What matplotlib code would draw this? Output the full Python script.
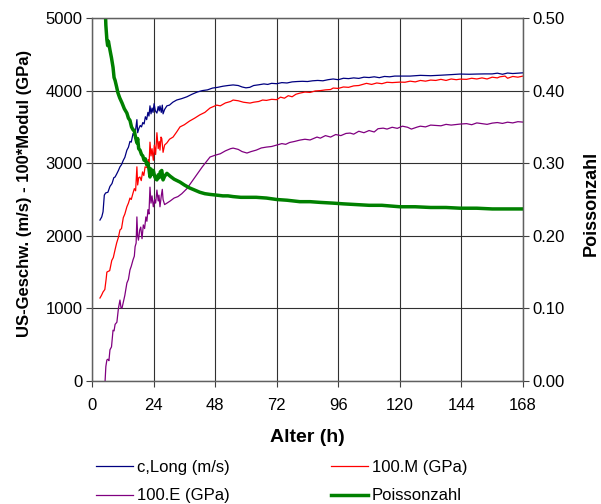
import matplotlib
matplotlib.use("Agg")
import matplotlib.pyplot as plt

plt.rcParams['font.family'] = ['Liberation Sans', 'DejaVu Sans']

# ---- data ----
c_long = [(3.1,2217),(3.8,2260),(4.3,2330),(4.8,2560),(5.3,2590),(6.2,2600),(7.0,2680),(7.8,2720),(8.5,2800),(9.0,2810),
 (9.6,2850),(10.3,2900),(10.9,2950),(11.5,2980),(12.2,3040),(12.8,3080),(13.6,3180),(14.2,3220),(14.8,3300),(15.3,3290),
 (16.0,3410),(16.5,3380),(17.0,3460),(17.5,3600),(17.8,3420),(18.3,3480),(18.8,3520),(19.3,3500),(19.8,3560),(20.3,3540),
 (20.8,3640),(21.3,3600),(21.8,3700),(22.2,3650),(22.6,3790),(23.0,3680),(23.4,3760),(23.8,3700),(24.2,3820),(24.7,3720),
 (25.3,3690),(25.8,3780),(26.2,3720),(26.5,3790),(27.0,3700),(27.4,3800),(27.7,3680),(28.3,3740),(29.2,3790),(30.2,3800),
 (31.5,3840),(33,3870),(35,3890),(37,3915),(39,3950),(41,3980),(43,4000),(45,4010),(47,4035),(49,4045),(51,4060),(53,4070),
 (55,4078),(57,4070),(58.5,4050),(60,4038),(61.5,4045),(63,4070),(65,4080),(67,4092),(68.5,4085),(70,4100),(72,4095),
 (74,4110),(76,4105),(78,4120),(80,4125),(82,4128),(84,4125),(86,4135),(88,4140),(90,4135),(92,4150),(94,4160),(96,4150),
 (98,4170),(100,4165),(102,4175),(104,4168),(106,4185),(108,4180),(110,4190),(112,4178),(114,4195),(116,4190),(118,4200),
 (120,4200),(124,4200),(128,4210),(132,4205),(136,4212),(140,4220),(143.5,4228),(147,4225),(150,4228),(153,4230),
 (156,4230),(158,4240),(160,4225),(162,4242),(164,4235),(166,4240),(168,4245)]

modul_m = [(3.1,1143),(3.7,1180),(4.3,1226),(5.0,1260),(5.5,1400),(5.8,1500),(6.3,1510),(6.9,1520),(7.7,1660),(8.3,1700),
 (9.0,1810),(9.6,1900),(10.3,1980),(10.9,2080),(11.5,2100),(12.2,2250),(12.8,2300),(13.6,2400),(14.2,2450),(14.8,2520),
 (15.3,2500),(16.0,2590),(16.5,2650),(17.0,2620),(17.5,2950),(17.8,2700),(18.2,2800),(18.7,2810),(19.2,2760),(19.7,2880),
 (20.2,2830),(20.7,2950),(21.4,2940),(21.9,3050),(22.2,2950),(22.6,3290),(23.0,3100),(23.4,3200),(23.9,3040),(24.3,3250),
 (24.8,3120),(25.3,3420),(25.8,3200),(26.2,3300),(26.5,3180),(26.9,3360),(27.2,3340),(27.7,3150),(28.3,3250),(29.2,3280),
 (30.2,3330),(31.6,3360),(33,3430),(34.3,3500),(36,3530),(38,3580),(40,3620),(42,3665),(44,3700),(46,3760),(48.6,3800),
 (50,3790),(52,3830),(54,3850),(55,3870),(57,3860),(59,3840),(61.6,3828),(63,3840),(65,3850),(66.5,3870),(68,3865),
 (70,3880),(72,3875),(73.5,3910),(75,3895),(76.5,3930),(78,3915),(79.5,3950),(81,3965),(83,3980),(85,3975),(87,3995),
 (89,4000),(91,4010),(93,4015),(94,4035),(96,4030),(98,4050),(100,4045),(102,4065),(104,4070),(106,4090),(107,4100),
 (109,4085),(111,4105),(113,4095),(115,4115),(117,4110),(120,4117),(122,4115),(124,4130),(126,4120),(128,4140),
 (130,4130),(132,4145),(134,4140),(136,4155),(138,4140),(140,4160),(142,4150),(143.5,4158),(146,4155),(148,4170),
 (150,4160),(152,4175),(154,4160),(156,4185),(158,4175),(159,4190),(161,4200),(162,4170),(164,4195),(166,4185),(168,4200)]

modul_e = [(5.1,0),(5.4,200),(5.8,290),(6.2,300),(6.6,280),(7.0,430),(7.6,470),(8.2,700),(8.6,690),(9.0,780),(9.7,810),
 (10.3,1000),(10.9,1115),(11.3,1010),(11.7,1005),(12.3,1100),(12.8,1180),(13.6,1350),(14.2,1400),(14.8,1530),(15.3,1580),
 (16.0,1670),(16.5,1720),(16.8,1850),(17.2,1900),(17.5,2260),(17.8,2000),(18.1,1940),(18.6,2080),(19.0,2120),(19.5,1960),
 (20.0,2150),(20.5,2100),(21.0,2260),(21.4,2200),(21.8,2360),(22.2,2300),(22.6,2670),(23.0,2450),(23.4,2550),(23.9,2400),
 (24.4,2500),(24.8,2450),(25.3,2630),(25.8,2480),(26.1,2560),(26.5,2400),(27.0,2550),(27.4,2640),(27.7,2500),(28.3,2430),
 (29.2,2450),(30.5,2480),(32,2520),(33.5,2540),(35,2580),(37,2650),(39.4,2770),(41,2850),(43,2950),(45,3040),(46,3085),
 (48,3110),(50,3130),(52,3170),(54,3200),(55,3208),(57,3190),(58.5,3160),(60.4,3140),(62,3160),(64,3180),(66,3210),
 (68,3222),(70,3230),(72,3250),(74,3270),(75.5,3260),(77,3285),(79,3300),(81,3318),(83,3330),(85,3320),(87.7,3360),
 (89,3345),(91,3380),(93,3360),(95,3395),(97,3380),(99,3410),(100.6,3415),(102,3400),(104,3440),(106,3420),(108,3450),
 (110,3430),(111.5,3475),(113.5,3483),(115,3470),(117,3495),(119,3480),(121,3510),(123,3495),(124.5,3470),(126.7,3497),
 (128,3510),(130,3500),(132,3525),(134,3520),(136,3515),(138,3535),(140,3525),(143.5,3539),(146,3545),(148,3530),
 (150,3555),(152,3545),(154,3535),(156,3552),(158,3560),(160,3548),(162,3565),(164,3555),(166,3572),(168,3566)]

poisson = [(5.1,0.52),(5.4,0.49),(5.8,0.47),(6.1,0.462),(6.4,0.468),(7.0,0.456),(7.6,0.445),(8.2,0.432),(8.6,0.418),
 (9.0,0.414),(9.6,0.405),(10.1,0.397),(10.8,0.390),(11.7,0.383),(12.6,0.375),(13.6,0.369),(14.2,0.362),(14.8,0.359),
 (15.4,0.35),(16.0,0.346),(16.5,0.345),(17.0,0.335),(17.5,0.328),(17.8,0.334),(18.2,0.32),(18.7,0.318),(19.3,0.312),
 (19.8,0.31),(20.3,0.304),(20.8,0.306),(21.3,0.298),(21.8,0.300),(22.2,0.292),(22.6,0.281),(23.0,0.292),(23.4,0.285),
 (23.9,0.290),(24.4,0.282),(24.9,0.278),(25.3,0.277),(25.8,0.284),(26.2,0.280),(26.6,0.288),(27.2,0.290),(27.7,0.277),
 (28.3,0.282),(29.2,0.286),(30.5,0.282),(32,0.278),(34.3,0.274),(36,0.270),(38,0.266),(40,0.263),(42,0.260),(44,0.258),
 (46,0.257),(48.6,0.256),(51,0.255),(53,0.255),(55,0.254),(58,0.253),(61,0.253),(64,0.253),(68,0.252),(72,0.250),
 (76,0.249),(81,0.247),(85,0.247),(89,0.246),(94,0.245),(98,0.244),(103,0.243),(108,0.242),(113,0.242),(120,0.240),
 (126,0.240),(132,0.239),(138,0.239),(143.5,0.238),(150,0.238),(156,0.237),(162,0.237),(168,0.237)]

x_ticks = [0, 24, 48, 72, 96, 120, 144, 168]
y_ticks = [0, 1000, 2000, 3000, 4000, 5000]
y2_ticks = [0.0, 0.1, 0.2, 0.3, 0.4, 0.5]

labels = ['c,Long (m/s)', '100.M (GPa)', '100.E (GPa)', 'Poissonzahl']
colors = ['#000080', '#FF0000', '#800080', '#008000']

# ---- figure ----
fig = plt.figure(figsize=(6.01, 5.04), dpi=100)
ax = fig.add_axes([92/601, 1-381/504, (523-92)/601, (381-18)/504])
ax2 = ax.twinx()

def unzip(d):
    return [p[0] for p in d], [p[1] for p in d]

l1, = ax.plot(*unzip(c_long), color=colors[0], lw=0.9)
l2, = ax.plot(*unzip(modul_m), color=colors[1], lw=0.9)
l3, = ax.plot(*unzip(modul_e), color=colors[2], lw=0.9)
l4, = ax2.plot(*unzip(poisson), color=colors[3], lw=2.5)

ax.set_xlim(0, 168)
ax.set_ylim(0, 5000)
ax2.set_ylim(0, 0.5)
ax.set_xticks(x_ticks)
ax.set_yticks(y_ticks)
ax2.set_yticks(y2_ticks)
ax2.set_yticklabels([f'{v:.2f}' for v in y2_ticks])

ax.grid(True, color='#303030', lw=0.8)
ax.set_axisbelow(True)
for a in (ax, ax2):
    for s in a.spines.values():
        s.set_color('#606060')
        s.set_linewidth(0.9)

ax.tick_params(axis='both', direction='out', length=4, width=0.8, color='#404040',
               labelsize=12, pad=3)
ax2.tick_params(axis='y', direction='out', length=4, width=0.8, color='#404040',
                labelsize=12, pad=3)
ax.tick_params(axis='x', pad=8)

ax.set_xlabel('Alter (h)', fontsize=14, fontweight='bold')
ax.xaxis.set_label_coords((307-92)/431, -(429-381)/363)
ax.set_ylabel('US-Geschw. (m/s) - 100*Modul (GPa)', fontsize=12, fontweight='bold')
ax.yaxis.set_label_coords((32-92)/431, (381-193)/363)
ax2.set_ylabel('Poissonzahl', fontsize=13, fontweight='bold')
ax2.yaxis.set_label_coords((583-92)/431, (381-203)/363)

handles = [l1, l3, l2, l4]
hl = [labels[0], labels[2], labels[1], labels[3]]
fig.legend(handles, hl, ncol=2, loc='upper left', bbox_to_anchor=(96/601, 1-460/504),
           frameon=False, fontsize=12, handlelength=2.2, handletextpad=0.25,
           columnspacing=6.1, labelspacing=0.8, borderaxespad=0, borderpad=0)

fig.savefig('out.png', dpi=100)
